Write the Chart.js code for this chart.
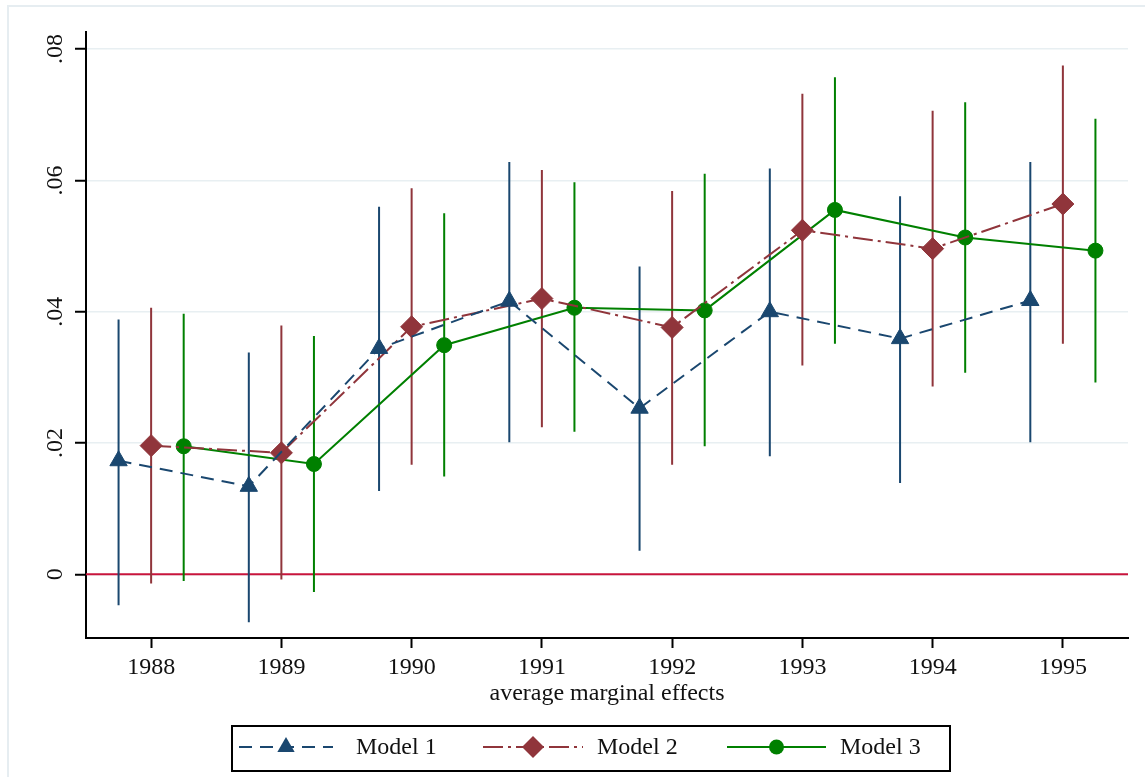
<!DOCTYPE html>
<html>
<head>
<meta charset="utf-8">
<script src="https://cdn.jsdelivr.net/npm/chart.js@4.4.1/dist/chart.umd.min.js"></script>
<style>
  html, body { margin: 0; padding: 0; background: #fff; }
  #wrap { width: 1145px; height: 777px; position: relative; }
</style>
</head>
<body>
<div id="wrap"><canvas id="effects"></canvas></div>
<script>
// average marginal effects by year, three models (estimate + CI bounds)
const years = [1988, 1989, 1990, 1991, 1992, 1993, 1994, 1995];

const m1Est = [0.0173, 0.0134, 0.0344, 0.0416, 0.0253, 0.0400, 0.0359, 0.0417];
const m1Lo  = [-0.0047, -0.0073, 0.0127, 0.0201, 0.0036, 0.0180, 0.0139, 0.0201];
const m1Hi  = [0.0388, 0.0338, 0.0560, 0.0628, 0.0469, 0.0618, 0.0576, 0.0628];

const m2Est = [0.0196, 0.0185, 0.0377, 0.0420, 0.0376, 0.0524, 0.0496, 0.0564];
const m2Lo  = [-0.0014, -0.0008, 0.0167, 0.0224, 0.0167, 0.0318, 0.0286, 0.0351];
const m2Hi  = [0.0406, 0.0379, 0.0588, 0.0616, 0.0584, 0.0732, 0.0706, 0.0775];

const m3Est = [0.0195, 0.0168, 0.0349, 0.0406, 0.0402, 0.0555, 0.0513, 0.0493];
const m3Lo  = [-0.0010, -0.0027, 0.0149, 0.0217, 0.0195, 0.0351, 0.0307, 0.0292];
const m3Hi  = [0.0397, 0.0363, 0.0550, 0.0597, 0.0610, 0.0757, 0.0719, 0.0694];

const modelNames = ['Model 1', 'Model 2', 'Model 3'];
const yTicks = [0, 0.02, 0.04, 0.06, 0.08];
const yTickLabels = ['0', '.02', '.04', '.06', '.08'];
const xTitle = 'average marginal effects';

const FONT = '"Liberation Serif", "DejaVu Serif", serif';
const navy = '#1a476f', maroon = '#90353b', green = '#008000';

function pts(est, shift) {
    return years.map((yr, i) => ({ x: yr + shift, y: est[i] }));
}
function spikes(lo, hi, shift) {
    // vertical CI spikes, separated by null gaps
    return years.flatMap((yr, i) => [
        { x: yr + shift, y: lo[i] },
        { x: yr + shift, y: hi[i] },
        { x: yr + shift, y: null }
    ]);
}

const styles = [
    { color: navy, dash: [13, 8], point: 'triangle', r: 10 },
    { color: maroon, dash: [20, 5, 3, 5], point: 'rectRot', r: 11 },
    { color: green, dash: [], point: 'circle', r: 7.5 }
];
const series = [[m1Est, m1Lo, m1Hi, -0.25], [m2Est, m2Lo, m2Hi, 0], [m3Est, m3Lo, m3Hi, 0.25]];

const datasets = [];
series.forEach(([est, lo, hi, shift], k) => {
    const st = styles[k];
    datasets.push({
        label: modelNames[k] + ' CI',
        data: spikes(lo, hi, shift),
        showLine: true,
        spanGaps: false,
        borderColor: st.color,
        borderWidth: 2,
        pointRadius: 0,
        order: 2
    });
    datasets.push({
        label: modelNames[k],
        data: pts(est, shift),
        showLine: true,
        borderColor: st.color,
        backgroundColor: st.color,
        borderWidth: 2,
        borderDash: st.dash,
        pointStyle: st.point,
        pointRadius: st.r,
        pointBorderWidth: 1,
        pointBackgroundColor: st.color,
        pointBorderColor: st.color,
        order: 1
    });
});

const xMin = 1987.5, xMax = 1995.5;
datasets.push({
    label: 'zero',
    data: [{ x: xMin, y: 0 }, { x: xMax, y: 0 }],
    showLine: true,
    borderColor: '#c8143c',
    borderWidth: 2,
    pointRadius: 0,
    order: 5
});

const framePlugin = {
    id: 'frame',
    beforeDraw(chart) {
        const ctx = chart.ctx;
        ctx.save();
        ctx.fillStyle = '#fff';
        ctx.fillRect(0, 0, chart.width, chart.height);
        ctx.strokeStyle = '#e6edf1';
        ctx.lineWidth = 2;
        ctx.strokeRect(8, 6, chart.width + 20, chart.height + 20);
        ctx.restore();
    }
};

// rotated y tick labels, Stata style
const yLabelPlugin = {
    id: 'yLabels',
    afterDraw(chart) {
        const ctx = chart.ctx, y = chart.scales.y;
        ctx.save();
        ctx.fillStyle = '#111';
        ctx.font = '24px ' + FONT;
        ctx.textAlign = 'center';
        ctx.textBaseline = 'middle';
        yTicks.forEach((v, i) => {
            ctx.save();
            ctx.translate(56, y.getPixelForValue(v));
            ctx.rotate(-Math.PI / 2);
            ctx.fillText(yTickLabels[i], 0, 0);
            ctx.restore();
        });
        ctx.restore();
    }
};

function marker(ctx, kind, x, y, r, color) {
    ctx.fillStyle = color;
    ctx.beginPath();
    if (kind === 'triangle') {
        ctx.moveTo(x, y - r);
        ctx.lineTo(x + r * 0.866, y + r * 0.5);
        ctx.lineTo(x - r * 0.866, y + r * 0.5);
    } else if (kind === 'rectRot') {
        ctx.moveTo(x, y - r);
        ctx.lineTo(x + r, y);
        ctx.lineTo(x, y + r);
        ctx.lineTo(x - r, y);
    } else {
        ctx.arc(x, y, r, 0, Math.PI * 2);
    }
    ctx.closePath();
    ctx.fill();
}

const legendPlugin = {
    id: 'boxLegend',
    afterDraw(chart) {
        const ctx = chart.ctx;
        const items = [
            { x0: 239, x1: 333, tx: 356 },
            { x0: 483, x1: 583, tx: 597 },
            { x0: 727, x1: 826, tx: 840 }
        ];
        const cy = 747;
        ctx.save();
        ctx.strokeStyle = '#000';
        ctx.lineWidth = 2;
        ctx.strokeRect(232, 726, 718, 45);
        items.forEach((it, k) => {
            const st = styles[k];
            ctx.strokeStyle = st.color;
            ctx.lineWidth = 2;
            ctx.setLineDash(st.dash);
            ctx.beginPath();
            ctx.moveTo(it.x0, cy);
            ctx.lineTo(it.x1, cy);
            ctx.stroke();
            ctx.setLineDash([]);
            marker(ctx, st.point, (it.x0 + it.x1) / 2, cy, st.r, st.color);
            ctx.fillStyle = '#111';
            ctx.font = '24px ' + FONT;
            ctx.textAlign = 'left';
            ctx.textBaseline = 'middle';
            ctx.fillText(modelNames[k], it.tx, cy + 1);
        });
        ctx.restore();
    }
};

const ctx = document.getElementById('effects').getContext('2d');
new Chart(ctx, {
    type: 'scatter',
    data: { datasets: datasets },
    options: {
        responsive: true,
        maintainAspectRatio: false,
        animation: false,
        layout: { padding: { top: 32, left: 0, right: 17, bottom: 69 } },
        plugins: {
            legend: { display: false },
            tooltip: { enabled: false }
        },
        scales: {
            x: {
                type: 'linear',
                min: xMin,
                max: xMax,
                afterBuildTicks: s => { s.ticks = years.map(v => ({ value: v })); },
                afterFit: s => { s.height = 70; },
                ticks: {
                    color: '#111',
                    font: { family: FONT, size: 24 },
                    padding: 5,
                    maxRotation: 0,
                    callback: v => String(v)
                },
                grid: {
                    drawOnChartArea: false,
                    tickLength: 10,
                    tickColor: '#000',
                    tickWidth: 2
                },
                border: { color: '#000', width: 2 },
                title: {
                    display: true,
                    text: xTitle,
                    color: '#111',
                    font: { family: FONT, size: 24 },
                    padding: 0
                }
            },
            y: {
                type: 'linear',
                min: -0.0097,
                max: 0.0826,
                afterBuildTicks: s => { s.ticks = yTicks.map(v => ({ value: v })); },
                afterFit: s => { s.width = 86; },
                ticks: { display: false },
                grid: {
                    color: '#e8eff2',
                    lineWidth: 1.5,
                    tickLength: 11,
                    tickColor: '#000',
                    tickWidth: 2
                },
                border: { color: '#000', width: 2 }
            }
        }
    },
    plugins: [framePlugin, yLabelPlugin, legendPlugin]
});
</script>
</body>
</html>
